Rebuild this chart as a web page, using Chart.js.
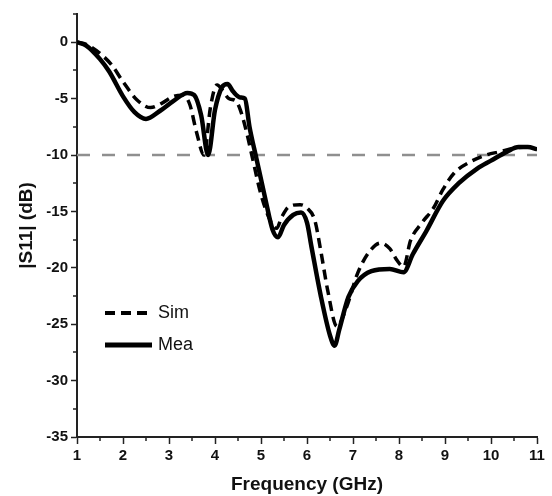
<!DOCTYPE html>
<html>
<head>
<meta charset="utf-8">
<script src="https://cdn.jsdelivr.net/npm/chart.js@4"></script>
<style>
  html, body { margin: 0; padding: 0; background: #fff; }
  #wrap { width: 552px; height: 496px; }
</style>
</head>
<body>
<div id="wrap"><canvas id="s11Chart" width="552" height="496"></canvas></div>
<script>
// Simulated |S11| (dashed)
const simFreq = [1, 1.2, 1.5, 1.75, 2.0, 2.3, 2.6, 2.85, 3.1, 3.3, 3.45, 3.6, 3.76, 3.9, 4.0, 4.05, 4.15, 4.3, 4.45, 4.55, 4.7, 4.8, 5.0, 5.2, 5.34, 5.45, 5.6, 5.85, 6.0, 6.17, 6.3, 6.45, 6.65, 6.85, 7.1, 7.35, 7.6, 7.8, 7.95, 8.1, 8.25, 8.5, 8.75, 8.95, 9.2, 9.55, 9.9, 10.2, 10.5, 10.8, 11.0];
const simS11 = [0, -0.2, -1.0, -2.0, -3.5, -5.1, -5.8, -5.4, -4.8, -4.7, -5.5, -8.0, -10.0, -5.8, -4.0, -3.8, -4.2, -5.0, -5.2, -6.0, -8.2, -10.0, -13.5, -15.8, -16.5, -15.5, -14.6, -14.4, -14.7, -15.8, -18.5, -22.0, -25.2, -23.6, -20.5, -18.6, -17.8, -18.3, -19.3, -19.9, -17.6, -16.0, -14.7, -13.1, -11.6, -10.6, -10.0, -9.7, -9.4, -9.3, -9.5];

// Measured |S11| (solid)
const meaFreq = [1, 1.2, 1.5, 1.7, 2.0, 2.25, 2.5, 2.8, 3.1, 3.4, 3.55, 3.7, 3.85, 4.0, 4.15, 4.27, 4.4, 4.55, 4.65, 4.75, 4.9, 5.1, 5.25, 5.37, 5.5, 5.7, 5.87, 6.0, 6.1, 6.3, 6.5, 6.6, 6.7, 6.9, 7.1, 7.4, 7.8, 8.1, 8.3, 8.6, 8.95, 9.3, 9.7, 10.0, 10.35, 10.6, 10.8, 11.0];
const meaS11 = [0, -0.3, -1.5, -2.6, -4.8, -6.2, -6.8, -6.1, -5.2, -4.5, -4.7, -6.5, -10.0, -6.0, -4.0, -3.7, -4.4, -4.9, -5.0, -7.5, -10.3, -14.0, -16.6, -17.3, -16.2, -15.3, -15.1, -16.0, -18.2, -22.5, -26.0, -26.9, -25.5, -22.6, -21.2, -20.3, -20.1, -20.4, -18.8, -16.7, -14.1, -12.5, -11.2, -10.5, -9.7, -9.3, -9.3, -9.5];

// -10 dB reference line
const refFreq = [1, 11];
const refS11 = [-10, -10];

const toPoints = (xs, ys) => xs.map((x, i) => ({ x: x, y: ys[i] }));

const isMajor = (v, step) => Math.abs(v / step - Math.round(v / step)) < 1e-6;

// short minor ticks between the labelled ones
const minorTicks = {
  id: 'minorTicks',
  afterDraw(chart) {
    const ctx = chart.ctx;
    const xs = chart.scales.x, ys = chart.scales.y;
    ctx.save();
    ctx.strokeStyle = '#222';
    ctx.lineWidth = 1.5;
    ctx.beginPath();
    xs.ticks.forEach(t => {
      if (!isMajor(t.value, 1)) {
        const px = Math.round(xs.getPixelForValue(t.value));
        ctx.moveTo(px, xs.top);
        ctx.lineTo(px, xs.top + 4);
      }
    });
    ys.ticks.forEach(t => {
      if (!isMajor(t.value, 5)) {
        const py = Math.round(ys.getPixelForValue(t.value));
        ctx.moveTo(ys.right, py);
        ctx.lineTo(ys.right - 4, py);
      }
    });
    ctx.stroke();
    ctx.restore();
  }
};

// legend drawn inside the plot, bottom-left
const innerLegend = {
  id: 'innerLegend',
  afterDraw(chart) {
    const ctx = chart.ctx;
    const area = chart.chartArea;
    const x0 = area.left + 28, x1 = area.left + 75;
    const rows = [
      { ds: chart.data.datasets[0], y: 313 },
      { ds: chart.data.datasets[1], y: 345 }
    ];
    ctx.save();
    rows.forEach(r => {
      ctx.strokeStyle = r.ds.borderColor;
      ctx.lineWidth = r.ds.borderWidth + 0.5;
      ctx.setLineDash(r.ds.borderDash || []);
      ctx.beginPath();
      ctx.moveTo(x0, r.y);
      ctx.lineTo(x1, r.y);
      ctx.stroke();
      ctx.setLineDash([]);
      ctx.fillStyle = '#111';
      ctx.font = '18px "Liberation Sans", Arial, sans-serif';
      ctx.textBaseline = 'middle';
      ctx.fillText(r.ds.label, x1 + 6, r.y);
    });
    ctx.restore();
  }
};

const ctx = document.getElementById('s11Chart').getContext('2d');
const s11Chart = new Chart(ctx, {
  type: 'line',
  data: {
    datasets: [
      {
        label: 'Sim',
        data: toPoints(simFreq, simS11),
        borderColor: '#000',
        borderWidth: 3.5,
        borderDash: [10, 6],
        pointRadius: 0,
        cubicInterpolationMode: 'monotone'
      },
      {
        label: 'Mea',
        data: toPoints(meaFreq, meaS11),
        borderColor: '#000',
        borderWidth: 4.5,
        pointRadius: 0,
        cubicInterpolationMode: 'monotone'
      },
      {
        label: 'ref',
        data: toPoints(refFreq, refS11),
        borderColor: '#8f8f8f',
        borderWidth: 2.5,
        borderDash: [13, 12],
        pointRadius: 0
      }
    ]
  },
  options: {
    responsive: false,
    animation: false,
    layout: { padding: { top: 14, right: 15, left: 0, bottom: 0 } },
    plugins: {
      legend: { display: false },
      tooltip: { enabled: false }
    },
    scales: {
      x: {
        type: 'linear',
        min: 1,
        max: 11,
        afterFit: s => { s.height = 59; },
        ticks: {
          stepSize: 0.5,
          autoSkip: false,
          maxRotation: 0,
          color: '#111',
          font: { family: '"Liberation Sans", Arial, sans-serif', size: 15, weight: 'bold' },
          callback: v => isMajor(v, 1) ? v : ''
        },
        grid: {
          drawOnChartArea: false,
          tickLength: 7,
          tickWidth: 1.5,
          tickColor: c => isMajor(c.tick.value, 1) ? '#222' : 'rgba(0,0,0,0)'
        },
        border: { color: '#222', width: 2 },
        title: {
          display: true,
          text: 'Frequency (GHz)',
          color: '#111',
          font: { family: '"Liberation Sans", Arial, sans-serif', size: 19, weight: 'bold' },
          padding: { top: 0, bottom: 0 }
        }
      },
      y: {
        min: -35,
        max: 2.5,
        afterFit: s => { s.width = 77; },
        ticks: {
          stepSize: 2.5,
          autoSkip: false,
          color: '#111',
          font: { family: '"Liberation Sans", Arial, sans-serif', size: 15, weight: 'bold' },
          callback: v => isMajor(v, 5) ? v : ''
        },
        grid: {
          drawOnChartArea: false,
          tickLength: 6,
          tickWidth: 1.5,
          tickColor: c => isMajor(c.tick.value, 5) ? '#222' : 'rgba(0,0,0,0)'
        },
        border: { color: '#222', width: 2 },
        title: {
          display: true,
          text: '|S11| (dB)',
          color: '#111',
          font: { family: '"Liberation Sans", Arial, sans-serif', size: 19, weight: 'bold' },
          padding: { top: 15, bottom: 0 }
        }
      }
    }
  },
  plugins: [minorTicks, innerLegend]
});
</script>
</body>
</html>
